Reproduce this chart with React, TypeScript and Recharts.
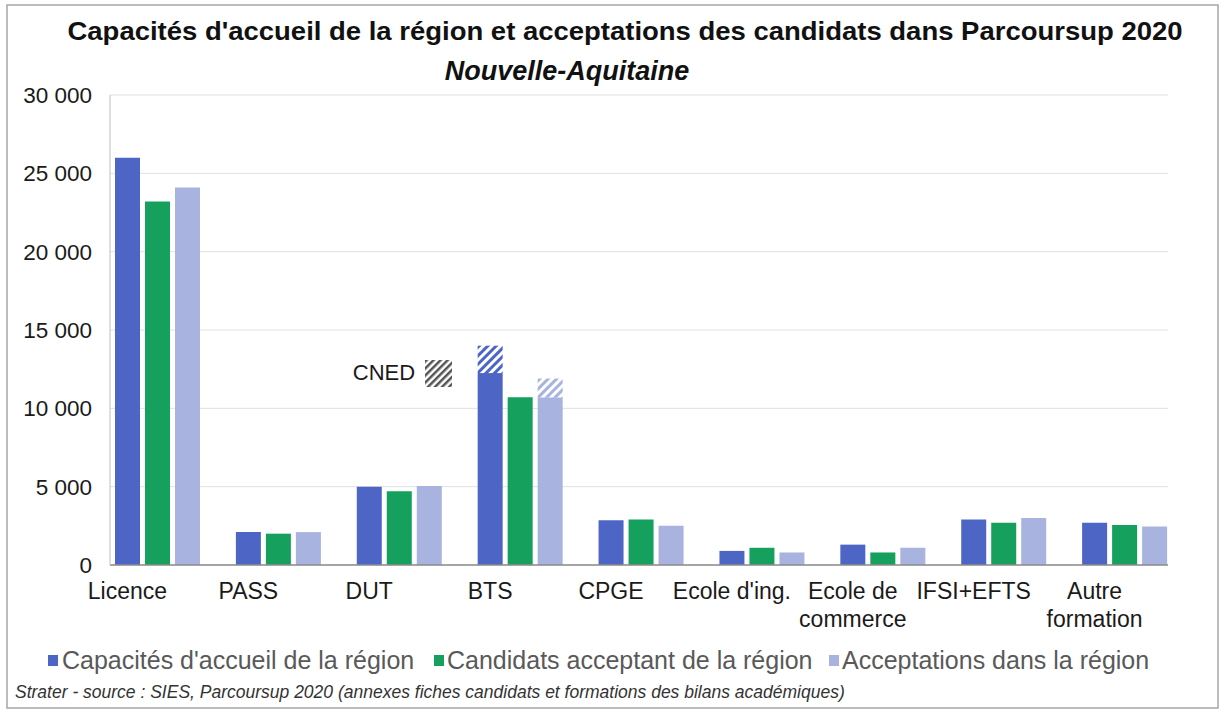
import React from "react";
import { BarChart, Bar, XAxis, YAxis, CartesianGrid } from "recharts";

const categories = ["Licence", "PASS", "DUT", "BTS", "CPGE", "Ecole d'ing.", "Ecole de\ncommerce", "IFSI+EFTS", "Autre\nformation"];
const capacites = [26000, 2100, 5000, 12250, 2850, 900, 1300, 2900, 2700];
const capacitesCned = [0, 0, 0, 1750, 0, 0, 0, 0, 0];
const candidats = [23200, 2000, 4700, 10700, 2900, 1100, 800, 2700, 2550];
const acceptations = [24100, 2100, 5050, 10700, 2500, 800, 1100, 3000, 2450];
const acceptationsCned = [0, 0, 0, 1200, 0, 0, 0, 0, 0];
const yTicks = [0, 5000, 10000, 15000, 20000, 25000, 30000];
const seriesNames = ["Capacités d'accueil de la région", "Candidats acceptant de la région", "Acceptations dans la région"];

const BLUE = "#4d66c6";
const GREEN = "#15a05e";
const LIGHT = "#a8b3df";
const FONT = "'Liberation Sans', Arial, sans-serif";

const data = categories.map((c, i) => ({
  name: c,
  cap: capacites[i],
  capCned: capacitesCned[i],
  cand: candidats[i],
  acc: acceptations[i],
  accCned: acceptationsCned[i],
}));

const fmt = (v: number) => (v === 0 ? "0" : `${Math.floor(v / 1000)} ${String(v % 1000).padStart(3, "0")}`);

const XTick = (props: any) => {
  const { x, y, payload } = props;
  const lines = String(payload.value).split("\n");
  return (
    <g transform={`translate(${x - 30},${y})`}>
      {lines.map((l, i) => (
        <text key={i} x={0} y={26 + i * 28} textAnchor="middle" fontSize={23} fill="#1a1a1a" fontFamily={FONT}>
          {l}
        </text>
      ))}
    </g>
  );
};

export default function App() {
  return (
    <div style={{ position: "absolute", left: 0, top: 0, width: 1222, height: 711, background: "#fff" }}>
      <BarChart
        width={1222}
        height={711}
        data={data}
        margin={{ top: 95, right: 54, left: 20, bottom: 86 }}
        barCategoryGap={18}
        barGap={5}
      >
        <defs>
          <pattern id="hatchBlue" patternUnits="userSpaceOnUse" width="6" height="6" patternTransform="rotate(45)">
            <rect width="6" height="6" fill="#ffffff" />
            <rect width="3" height="6" fill={BLUE} />
          </pattern>
          <pattern id="hatchLight" patternUnits="userSpaceOnUse" width="6" height="6" patternTransform="rotate(45)">
            <rect width="6" height="6" fill="#ffffff" />
            <rect width="3" height="6" fill={LIGHT} />
          </pattern>
        </defs>
        <CartesianGrid vertical={false} stroke="#e0e0e0" />
        <XAxis
          dataKey="name"
          tick={<XTick />}
          tickLine={false}
          axisLine={{ stroke: "#8c8c8c", strokeWidth: 1.5 }}
          height={60}
          interval={0}
          padding={{ left: -13, right: -17 }}
        />
        <YAxis
          domain={[0, 30000]}
          ticks={yTicks}
          tickFormatter={fmt}
          tickLine={false}
          tickSize={0}
          tickMargin={18}
          width={90}
          axisLine={{ stroke: "#bfbfbf" }}
          tick={{ fontSize: 22.5, fill: "#1a1a1a", fontFamily: FONT }}
          interval={0}
        />
        <Bar dataKey="cap" stackId="a" fill={BLUE} isAnimationActive={false} />
        <Bar dataKey="capCned" stackId="a" fill="url(#hatchBlue)" isAnimationActive={false} />
        <Bar dataKey="cand" stackId="b" fill={GREEN} isAnimationActive={false} />
        <Bar dataKey="acc" stackId="c" fill={LIGHT} isAnimationActive={false} />
        <Bar dataKey="accCned" stackId="c" fill="url(#hatchLight)" isAnimationActive={false} />
      </BarChart>
      <svg width={1222} height={711} style={{ position: "absolute", left: 0, top: 0, pointerEvents: "none" }}>
        <defs>
          <pattern id="hatchGray" patternUnits="userSpaceOnUse" width="5" height="5" patternTransform="rotate(45)">
            <rect width="5" height="5" fill="#ffffff" />
            <rect width="2.5" height="5" fill="#555555" />
          </pattern>
        </defs>
        <rect x={7} y={5} width={1211} height={703} fill="none" stroke="#a6a6a6" strokeWidth={1.5} />
        <text x={625} y={40} textAnchor="middle" fontSize={26} fontWeight="bold" fill="#111" fontFamily={FONT}
          textLength={1115} lengthAdjust="spacingAndGlyphs">
          Capacités d'accueil de la région et acceptations des candidats dans Parcoursup 2020
        </text>
        <text x={567} y={80} textAnchor="middle" fontSize={27} fontWeight="bold" fontStyle="italic" fill="#111" fontFamily={FONT}>
          Nouvelle-Aquitaine
        </text>
        <text x={384} y={380} textAnchor="middle" fontSize={22} fill="#1a1a1a" fontFamily={FONT}>
          CNED
        </text>
        <rect x={425} y={360} width={27} height={27} fill="url(#hatchGray)" />
        <g fontFamily={FONT} fontSize={25} fill="#595959">
          <rect x={48} y={655} width={10} height={11} fill={BLUE} />
          <text x={62} y={669}>{seriesNames[0]}</text>
          <rect x={434} y={655} width={10} height={11} fill={GREEN} />
          <text x={447} y={669}>{seriesNames[1]}</text>
          <rect x={829} y={655} width={10} height={11} fill={LIGHT} />
          <text x={842} y={669}>{seriesNames[2]}</text>
        </g>
        <text x={15} y={698} fontSize={17.5} fontStyle="italic" fill="#333" fontFamily={FONT}>
          Strater - source : SIES, Parcoursup 2020 (annexes fiches candidats et formations des bilans académiques)
        </text>
      </svg>
    </div>
  );
}
